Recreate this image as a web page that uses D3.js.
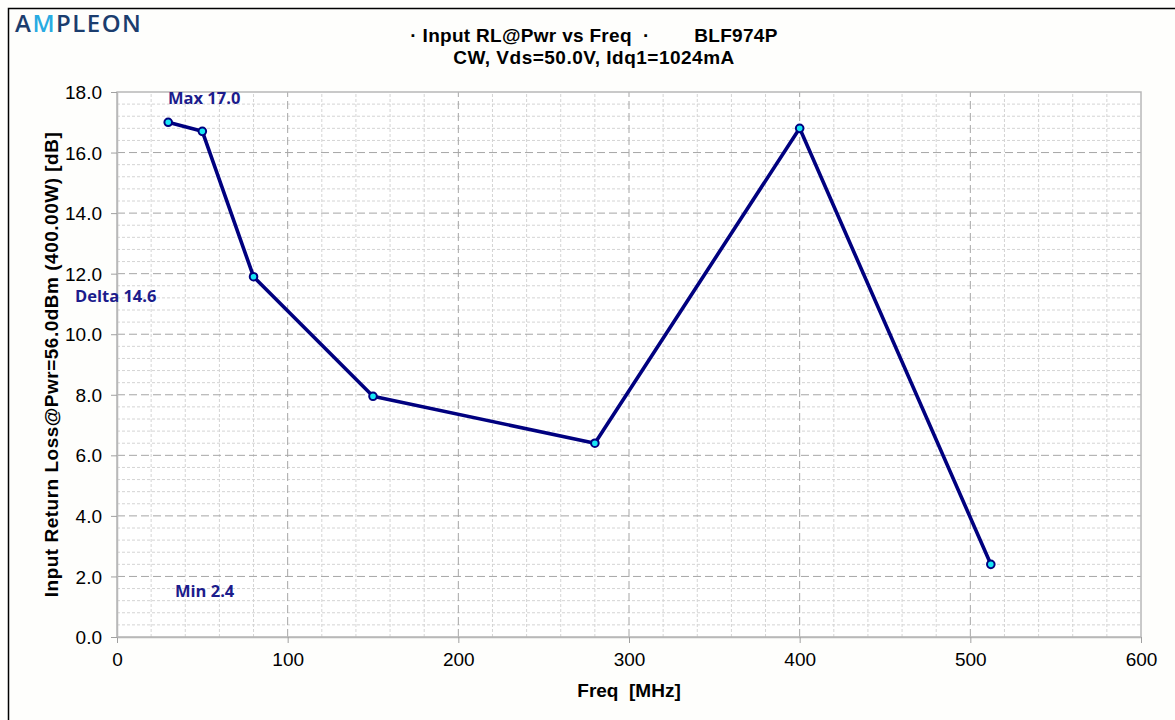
<!DOCTYPE html>
<html>
<head>
<meta charset="utf-8">
<script src="https://cdn.jsdelivr.net/npm/d3@7"></script>
<style>
  body { margin: 0; background: #fff; }
  svg { display: block; }
</style>
</head>
<body>
<svg id="chart" width="1175" height="720"></svg>
<script>
// data
const freq = [30, 50, 80, 150, 280, 400, 512];
const returnLoss = [17.0, 16.7, 11.9, 7.95, 6.4, 16.8, 2.4];
const xTicks = [0, 100, 200, 300, 400, 500, 600];
const yTicks = [0, 2, 4, 6, 8, 10, 12, 14, 16, 18];
const titleLines = ["· Input RL@Pwr vs Freq  ·        BLF974P", "CW, Vds=50.0V, Idq1=1024mA"];

const svg = d3.select("#chart");
const W = 1175, H = 720;
const margin = { left: 117, right: 1141, top: 92, bottom: 637 };
const NAVY = "#00007f";
const tf = "Liberation Sans, Arial, sans-serif";

// outer frame
svg.append("rect").attr("x", 0).attr("y", 0).attr("width", W).attr("height", H).attr("fill", "#fefefc");
svg.append("rect").attr("x", 8.5).attr("y", 8.5).attr("width", W + 20).attr("height", H + 20)
  .attr("fill", "none").attr("stroke", "#000").attr("stroke-width", 1.5);

const x = d3.scaleLinear().domain([0, 600]).range([margin.left, margin.right]);
const y = d3.scaleLinear().domain([0, 18]).range([margin.bottom, margin.top]);

// plot area
svg.append("rect")
  .attr("x", x(0)).attr("y", y(18))
  .attr("width", x(600) - x(0)).attr("height", y(0) - y(18))
  .attr("fill", "#fff");

const grid = svg.append("g");
// minor grid
d3.range(0, 601, 20).filter(v => v % 100 !== 0).forEach(v => {
  grid.append("line").attr("x1", x(v)).attr("x2", x(v)).attr("y1", y(0)).attr("y2", y(18))
    .attr("stroke", "#d4d4d4").attr("stroke-width", 1).attr("stroke-dasharray", "3,2");
});
d3.range(0, 18.01, 0.4).map(v => +v.toFixed(1)).filter(v => Math.abs(v / 2 - Math.round(v / 2)) > 1e-6).forEach(v => {
  grid.append("line").attr("x1", x(0)).attr("x2", x(600)).attr("y1", y(v)).attr("y2", y(v))
    .attr("stroke", "#d4d4d4").attr("stroke-width", 1).attr("stroke-dasharray", "3,2");
});
// major grid
xTicks.slice(1, -1).forEach(v => {
  grid.append("line").attr("x1", x(v)).attr("x2", x(v)).attr("y1", y(0)).attr("y2", y(18))
    .attr("stroke", "#a6a6a6").attr("stroke-width", 1).attr("stroke-dasharray", "8,4");
});
yTicks.slice(1, -1).forEach(v => {
  grid.append("line").attr("x1", x(0)).attr("x2", x(600)).attr("y1", y(v)).attr("y2", y(v))
    .attr("stroke", "#a6a6a6").attr("stroke-width", 1).attr("stroke-dasharray", "8,4");
});

// plot border
svg.append("rect")
  .attr("x", x(0)).attr("y", y(18))
  .attr("width", x(600) - x(0)).attr("height", y(0) - y(18))
  .attr("fill", "none").attr("stroke", "#b8b8b8").attr("stroke-width", 1.5);

// axes
const xAxis = d3.axisBottom(x).tickValues(xTicks).tickFormat(d3.format("d")).tickSize(6).tickSizeOuter(0);
const yAxis = d3.axisLeft(y).tickValues(yTicks).tickFormat(d3.format(".1f")).tickSize(6).tickSizeOuter(0);

const gx = svg.append("g").attr("transform", `translate(0,${y(0)})`).call(xAxis);
const gy = svg.append("g").attr("transform", `translate(${x(0)},0)`).call(yAxis);
[gx, gy].forEach(g => {
  g.select(".domain").attr("stroke", "#b8b8b8").attr("stroke-width", 1.5);
  g.selectAll(".tick line").attr("stroke", "#a0a0a0");
  g.selectAll("text").attr("font-family", tf)
    .attr("font-size", 19).attr("fill", "#000");
});
gx.selectAll("text").attr("y", 12).attr("dy", "0.9em");
gy.selectAll("text").attr("x", -15).attr("dy", "0.35em");

// series
const pts = freq.map((f, i) => [f, returnLoss[i]]);
svg.append("path")
  .datum(pts)
  .attr("fill", "none")
  .attr("stroke", NAVY)
  .attr("stroke-width", 3.6)
  .attr("stroke-linejoin", "round")
  .attr("d", d3.line().x(d => x(d[0])).y(d => y(d[1])));

svg.append("g").selectAll("circle")
  .data(pts).join("circle")
  .attr("cx", d => x(d[0])).attr("cy", d => y(d[1]))
  .attr("r", 3.8)
  .attr("fill", "#19e6f5")
  .attr("stroke", NAVY).attr("stroke-width", 2);

// annotations
const maxV = d3.max(returnLoss), minV = d3.min(returnLoss);
const annFont = "'Open Sans', 'Noto Sans', sans-serif";
const ann = [
  { t: `Max ${maxV.toFixed(1)}`, px: 168, py: 104 },
  { t: `Delta ${(maxV - minV).toFixed(1)}`, px: 75, py: 302 },
  { t: `Min ${minV.toFixed(1)}`, px: 175, py: 597 },
];
ann.forEach(a => {
  svg.append("text").attr("x", a.px).attr("y", a.py)
    .attr("font-family", annFont).attr("font-weight", "bold").attr("font-size", 16.5)
    .attr("fill", "#1c1c8c").text(a.t);
});

// titles
svg.append("text").attr("x", 594).attr("y", 42).attr("text-anchor", "middle")
  .attr("font-family", tf).attr("font-weight", "bold").attr("font-size", 19)
  .attr("letter-spacing", 0.3)
  .style("white-space", "pre").text(titleLines[0]);
svg.append("text").attr("x", 594).attr("y", 64).attr("text-anchor", "middle")
  .attr("font-family", tf).attr("font-weight", "bold").attr("font-size", 19)
  .attr("letter-spacing", 0.5)
  .text(titleLines[1]);

svg.append("text").attr("x", 629).attr("y", 697).attr("text-anchor", "middle")
  .attr("font-family", tf).attr("font-weight", "bold").attr("font-size", 19)
  .style("white-space", "pre").text("Freq  [MHz]");

svg.append("text")
  .attr("transform", `translate(58,${(y(0) + y(18)) / 2}) rotate(-90)`)
  .attr("text-anchor", "middle")
  .attr("font-family", tf).attr("font-weight", "bold").attr("font-size", 19)
  .attr("letter-spacing", 0.5)
  .text("Input Return Loss@Pwr=56.0dBm (400.00W) [dB]");

// logo
const logo = svg.append("text").attr("x", 15).attr("y", 32)
  .attr("font-family", "'Open Sans', 'Noto Sans', sans-serif").attr("font-size", 24)
  .attr("font-weight", 600)
  .attr("fill", "#1b3d6e").attr("letter-spacing", 1.5);
logo.append("tspan").text("A");
logo.append("tspan").attr("fill", "#29abe2").text("M");
logo.append("tspan").text("PLEON");
</script>
</body>
</html>
